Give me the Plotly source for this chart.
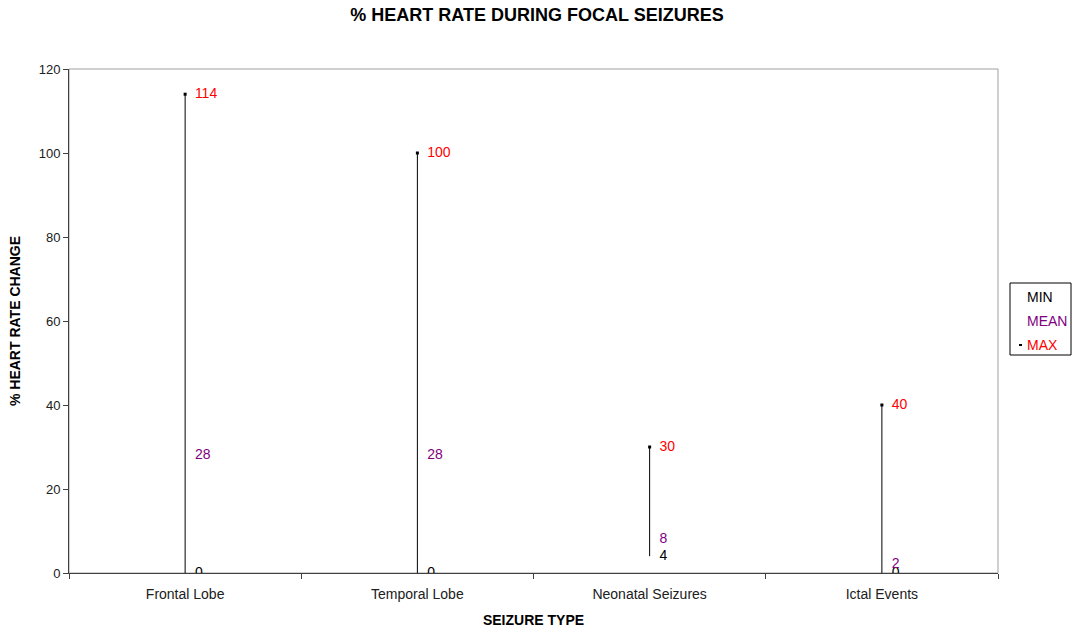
import plotly.graph_objects as go

categories = ["Frontal Lobe", "Temporal Lobe", "Neonatal Seizures", "Ictal Events"]
min_vals = [0, 0, 4, 0]
mean_vals = [28, 28, 8, 2]
max_vals = [114, 100, 30, 40]
series_names = ["MIN", "MEAN", "MAX"]

FONT = "Arial, Liberation Sans, sans-serif"
RED = "#FF0000"
PURPLE = "#800080"
series_colors = ["black", PURPLE, RED]

fig = go.Figure()

# high-low lines
lx, ly = [], []
for c, lo, hi in zip(categories, min_vals, max_vals):
    lx += [c, c, None]
    ly += [lo, hi, None]
fig.add_trace(go.Scatter(x=lx, y=ly, mode="lines", line=dict(color="black", width=1),
                         showlegend=False, hoverinfo="skip"))

# max tick marks
fig.add_trace(go.Scatter(x=categories, y=max_vals, mode="markers",
                         marker=dict(symbol="square", size=3, color="black"),
                         showlegend=False, hoverinfo="skip"))

def label_trace(vals, color, name):
    return go.Scatter(
        x=categories, y=vals, mode="markers+text", name=name,
        text=[str(v) for v in vals], textposition="middle right",
        textfont=dict(color=color, size=14, family=FONT),
        marker=dict(size=14, color="rgba(0,0,0,0)"),
        showlegend=False, hoverinfo="skip")

for vals, color, name in zip([min_vals, mean_vals, max_vals], series_colors, series_names):
    fig.add_trace(label_trace(vals, color, name))

# plot border (top/right gray)
fig.add_shape(type="rect", xref="paper", yref="paper", x0=0, x1=1, y0=0, y1=1,
              line=dict(color="#A0A0A0", width=1), layer="below")

# manual legend box (pixel-based positions converted to paper coords)
W, H = 1074, 630
ML, MR, MT, MB = 69, 76, 69, 57
pw, ph = W - ML - MR, H - MT - MB
px = lambda x: (x - ML) / pw
py = lambda y: (H - MB - y) / ph

fig.add_shape(type="rect", xref="paper", yref="paper",
              x0=px(1010), x1=px(1071), y0=py(355), y1=py(283),
              line=dict(color="black", width=1), fillcolor="white")
for i, (name, color) in enumerate(zip(series_names, series_colors)):
    yc = 297 + 24 * i
    fig.add_annotation(xref="paper", yref="paper", x=px(1025), y=py(yc),
                       xanchor="left", yanchor="middle", showarrow=False,
                       text=name, font=dict(size=14, family=FONT, color=color))
fig.add_shape(type="line", xref="paper", yref="paper",
              x0=px(1019), x1=px(1022), y0=py(345), y1=py(345),
              line=dict(color="black", width=2))

fig.update_layout(
    width=W, height=H,
    margin=dict(l=ML, r=MR, t=MT, b=MB),
    paper_bgcolor="white", plot_bgcolor="white",
    font=dict(family=FONT, color="black"),
    showlegend=False,
    title=dict(text="<b>% HEART RATE DURING FOCAL SEIZURES</b>", x=0.5, xanchor="center",
               y=1 - 15 / 630, yanchor="middle", font=dict(size=18, family=FONT)),
    xaxis=dict(type="category", categoryorder="array", categoryarray=categories,
               tickson="boundaries", ticks="outside", ticklen=5, tickcolor="#404040",
               showline=True, linecolor="#404040", linewidth=1, showgrid=False,
               tickfont=dict(size=14, family=FONT, color="#202020"),
               ticklabelstandoff=8,
               title=dict(text="<b>SEIZURE TYPE</b>", font=dict(size=14, family=FONT), standoff=14),
               range=[-0.5, 3.5], automargin=False),
    yaxis=dict(range=[0, 120], dtick=20, ticks="outside", ticklen=5, tickcolor="#404040",
               showline=True, linecolor="#404040", linewidth=1, showgrid=False, zeroline=False,
               tickfont=dict(size=13, family=FONT, color="#202020"),
               title=dict(text="<b>% HEART RATE CHANGE</b>", font=dict(size=14, family=FONT), standoff=14),
               automargin=False),
)

fig.write_html("out.html")
